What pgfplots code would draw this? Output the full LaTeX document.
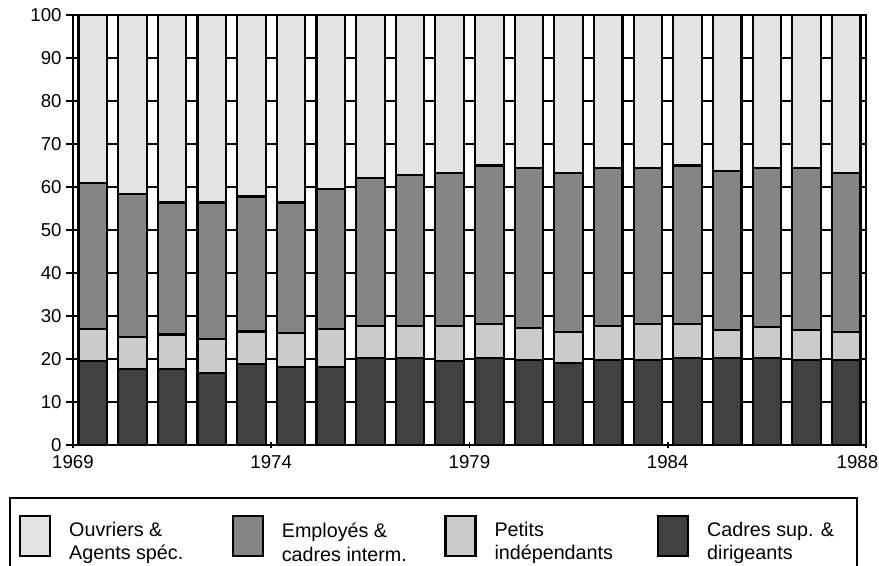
\documentclass[border=0pt]{standalone}
\usepackage{pgfplots}
\pgfplotsset{compat=1.18}
\usepackage{pgfplotstable}
\usepackage{fontspec}
\setmainfont{Liberation Sans}
\definecolor{ouv}{HTML}{E3E3E3}
\definecolor{emp}{HTML}{858585}
\definecolor{pet}{HTML}{CBCBCB}
\definecolor{cad}{HTML}{404040}
\pgfplotstableread{
x cad pet emp ouv
0.5 19.5 7.4 34.0 39.1
1.5 17.6 7.6 33.1 41.7
2.5 17.6 8.1 30.7 43.6
3.5 16.8 7.8 31.8 43.6
4.5 18.8 7.6 31.4 42.2
5.5 18.2 7.8 30.4 43.6
6.5 18.2 8.8 32.6 40.4
7.5 20.2 7.5 34.4 37.9
8.5 20.2 7.5 35.0 37.3
9.5 19.5 8.2 35.5 36.8
10.5 20.3 7.8 36.9 35.0
11.5 19.8 7.5 37.2 35.5
12.5 19.1 7.1 37.0 36.8
13.5 19.8 7.9 36.8 35.5
14.5 19.8 8.3 36.4 35.5
15.5 20.3 7.8 36.9 35.0
16.5 20.3 6.4 37.0 36.3
17.5 20.3 7.2 37.0 35.5
18.5 19.8 6.9 37.8 35.5
19.5 19.8 6.4 37.0 36.8
}\data
\pgfplotsset{mylegend/.style={legend image code/.code={\draw[##1, line width=1.6pt] (0pt,-15pt) rectangle (22.5pt,15pt);}}}
\begin{document}
\begin{tikzpicture}
\begin{axis}[name=ax, scale only axis, width=594.75pt, height=322.5pt,
  xmin=0, xmax=20, ymin=0, ymax=100,
  ybar stacked, bar width=0.72,
  ytick={0,10,...,100},
  xtick={0,5,10,15,20},
  xticklabels={1969,1974,1979,1984,\rlap{\hspace*{-22pt}1988}},
  ytick pos=left, xtick pos=bottom,
  ytick align=outside, xtick align=center, major tick length=5pt,
  tick style={black, line width=1.2pt},
  ymajorgrids, grid style={black, line width=1.6pt},
  axis line style={black, line width=1.6pt},
  tick label style={font=\fontsize{14}{16}\selectfont},
  xticklabel style={yshift=-2pt},
  /pgf/number format/assume math mode=true,
  every axis plot post/.append style={mylegend},
  reverse legend,
  legend style={at={(-0.0807,-0.1209)}, anchor=north west, legend columns=4,
    draw=black, line width=1.6pt, inner xsep=6.75pt, inner ysep=12.75pt,
    nodes={inner sep=0pt}, font=\fontsize{14.8}{17.5}\selectfont,
    /tikz/every odd column/.append style={column sep=13.5pt},
    /tikz/every even column/.append style={column sep=16.4pt}},
]
\addplot[fill=cad, draw=black, line width=1.6pt] table[x=x,y=cad]{\data};
\addlegendentry{\parbox[c]{105.5pt}{Cadres sup. \&\\dirigeants}}
\addplot[fill=pet, draw=black, line width=1.6pt] table[x=x,y=pet]{\data};
\addlegendentry{\parbox[c]{105.5pt}{Petits\\indépendants}}
\addplot[fill=emp, draw=black, line width=1.6pt] table[x=x,y=emp]{\data};
\addlegendentry{\parbox[c]{105.5pt}{Employés \&\\cadres interm.}}
\addplot[fill=ouv, draw=black, line width=1.6pt] table[x=x,y=ouv]{\data};
\addlegendentry{\parbox[c]{105.5pt}{Ouvriers \&\\Agents spéc.}}
\end{axis}
\pgfresetboundingbox
\path[use as bounding box] (ax.south west) ++(-54.75pt,-90pt) rectangle ++(659.25pt,423.75pt);
\end{tikzpicture}
\end{document}
